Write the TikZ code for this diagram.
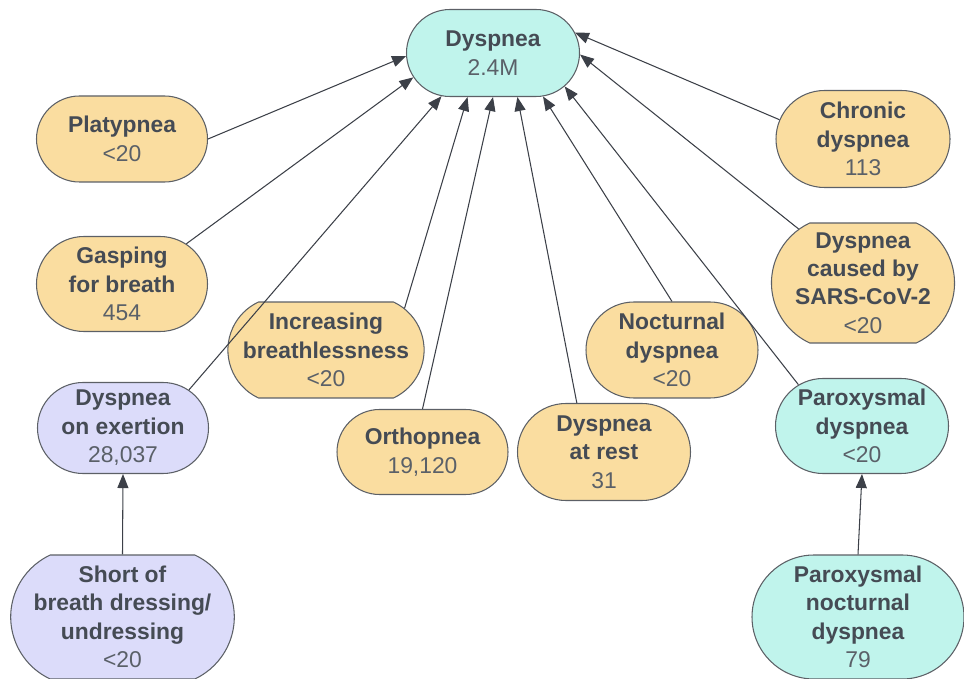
\documentclass[tikz,border=0pt]{standalone}
\usepackage{fontspec}
\setmainfont{Liberation Sans}
\usetikzlibrary{arrows.meta,shapes.misc}
\definecolor{mildfill}{HTML}{FADDA0}
\definecolor{corefill}{HTML}{C0F4EC}
\definecolor{exertfill}{HTML}{DCDCFA}
\definecolor{edgegray}{HTML}{5C6066}
\definecolor{linkgray}{HTML}{3C4048}
\definecolor{titlegray}{HTML}{454B54}
\definecolor{numgray}{HTML}{5A6068}
\newcommand{\cnt}[1]{{\mdseries\color{numgray}#1}}

\begin{document}
\begin{tikzpicture}[>={Triangle[length=0.28cm,width=0.22cm]},
  term/.style={rounded rectangle,draw=edgegray,line width=0.6pt,inner sep=0pt,
    align=center,font=\fontsize{13}{16.2}\selectfont\bfseries,text=titlegray},
  mild/.style={term,fill=mildfill},
  core/.style={term,fill=corefill},
  exert/.style={term,fill=exertfill},
  wide/.style={rounded rectangle arc length=130},
  link/.style={->,draw=linkgray,line width=0.6pt}]
  \useasboundingbox (0,0) rectangle (19.28,13.56);

  \node[core,minimum width=3.46cm,minimum height=1.74cm] (dys) at (9.86,12.50) {Dyspnea\\\cnt{2.4M}};

  \node[mild,minimum width=3.42cm,minimum height=1.72cm] (plat) at (2.44,10.78) {Platypnea\\\cnt{<20}};
  \node[mild,minimum width=3.42cm,minimum height=1.90cm] (gasp) at (2.44,7.88) {Gasping\\for breath\\\cnt{454}};
  \node[exert,minimum width=3.42cm,minimum height=1.82cm] (doe) at (2.46,5.00) {Dyspnea\\on exertion\\\cnt{28,037}};
  \node[exert,wide,minimum width=4.42cm,minimum height=2.48cm] (sob) at (2.45,1.22) {Short of\\breath dressing/\\undressing\\\cnt{<20}};

  \node[mild,wide,minimum width=3.74cm,minimum height=1.92cm] (inc) at (6.52,6.56) {Increasing\\breathlessness\\\cnt{<20}};
  \node[mild,minimum width=3.42cm,minimum height=1.70cm] (orth) at (8.45,4.52) {Orthopnea\\\cnt{19,120}};
  \node[mild,minimum width=3.46cm,minimum height=1.94cm] (rest) at (12.08,4.52) {Dyspnea\\at rest\\\cnt{31}};
  \node[mild,minimum width=3.44cm,minimum height=1.92cm] (noct) at (13.44,6.56) {Nocturnal\\dyspnea\\\cnt{<20}};

  \node[mild,minimum width=3.48cm,minimum height=1.94cm] (chron) at (17.26,10.78) {Chronic\\dyspnea\\\cnt{113}};
  \node[mild,wide,minimum width=3.40cm,minimum height=2.40cm] (sars) at (17.26,7.90) {Dyspnea\\caused by\\SARS-CoV-2\\\cnt{<20}};
  \node[core,minimum width=3.46cm,minimum height=1.90cm] (parox) at (17.24,5.04) {Paroxysmal\\dyspnea\\\cnt{<20}};
  \node[core,minimum width=4.24cm,minimum height=2.48cm] (pnd) at (17.16,1.22) {Paroxysmal\\nocturnal\\dyspnea\\\cnt{79}};

  \foreach \src/\from/\to in {plat/0/182,gasp/32/197,doe/30/220,inc/28/240,orth/90/270,
    rest/119/299,noct/90/319,parox/147/335,sars/140/359,chron/167/14}
    \draw[link] (\src.\from) -- (dys.\to);
  \draw[link] (sob.north) -- (doe.south);
  \draw[link] (pnd.north) -- (parox.south);
\end{tikzpicture}
\end{document}
